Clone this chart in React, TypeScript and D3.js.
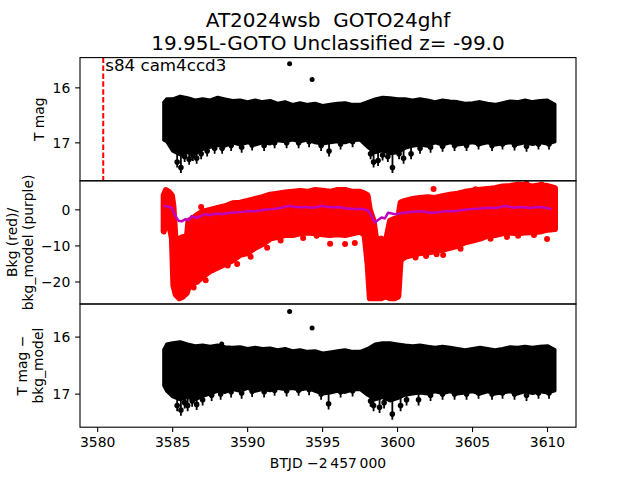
import React from "react"
import * as d3 from "d3"

// time grid (BTJD - 2457000) and envelopes
const magTimes = [3584.4, 3584.6, 3585.0, 3585.5, 3586.0, 3586.5, 3587.0, 3587.5, 3588.0, 3588.5, 3589.0, 3589.5, 3590.0, 3590.5, 3591.0, 3591.5, 3592.0, 3592.5, 3593.0, 3593.5, 3594.0, 3594.5, 3595.0, 3595.5, 3596.0, 3596.5, 3597.0, 3597.5, 3598.0, 3598.5, 3599.0, 3599.5, 3600.0, 3600.5, 3601.0, 3601.5, 3602.0, 3602.5, 3603.0, 3603.5, 3604.0, 3604.5, 3605.0, 3605.5, 3606.0, 3606.5, 3607.0, 3607.5, 3608.0, 3608.5, 3609.0, 3609.5, 3610.0, 3610.5]
const magBright = [16.26, 16.2, 16.2, 16.15, 16.18, 16.22, 16.2, 16.22, 16.17, 16.2, 16.23, 16.22, 16.25, 16.22, 16.25, 16.23, 16.28, 16.25, 16.3, 16.27, 16.3, 16.28, 16.32, 16.3, 16.28, 16.27, 16.3, 16.3, 16.25, 16.2, 16.17, 16.18, 16.2, 16.2, 16.22, 16.2, 16.22, 16.25, 16.22, 16.24, 16.25, 16.28, 16.27, 16.25, 16.28, 16.3, 16.27, 16.24, 16.25, 16.22, 16.25, 16.23, 16.22, 16.3]
const magFaint = [16.95, 16.98, 17.15, 17.22, 17.18, 17.2, 17.12, 17.08, 17.05, 17.06, 17.0, 17.04, 17.0, 17.04, 17.0, 17.02, 16.96, 16.98, 16.95, 16.98, 16.95, 17.0, 17.02, 17.0, 16.98, 17.0, 16.96, 16.95, 17.08, 17.18, 17.14, 17.2, 17.18, 17.1, 17.06, 17.04, 17.06, 17.0, 17.04, 17.0, 17.04, 17.02, 17.0, 17.03, 17.0, 17.04, 17.02, 17.0, 17.03, 17.0, 17.03, 17.0, 17.02, 16.98]
const magSpikeT = [3585.3, 3585.55, 3585.8, 3586.1, 3586.35, 3586.6, 3586.9, 3587.3, 3587.8, 3588.3, 3588.9, 3589.6, 3590.3, 3591.1, 3591.8, 3592.6, 3593.4, 3594.1, 3594.9, 3595.43, 3596.2, 3597.0, 3598.2, 3598.4, 3598.7, 3599.0, 3599.35, 3599.66, 3600.1, 3600.4, 3600.9, 3601.5, 3602.2, 3603.0, 3603.8, 3604.6, 3605.4, 3606.3, 3607.0, 3607.8, 3608.6, 3609.4, 3610.1]
const magSpikeV = [17.45, 17.55, 17.35, 17.4, 17.33, 17.38, 17.3, 17.25, 17.2, 17.2, 17.15, 17.18, 17.14, 17.15, 17.1, 17.1, 17.1, 17.08, 17.15, 17.25, 17.12, 17.08, 17.3, 17.45, 17.42, 17.32, 17.35, 17.55, 17.3, 17.38, 17.3, 17.2, 17.18, 17.16, 17.15, 17.15, 17.12, 17.15, 17.12, 17.14, 17.16, 17.12, 17.12]
const outlierT = [3592.8, 3594.3]
const outlierMag = [15.56, 15.85]

const diffBright = [16.22, 16.12, 16.1, 16.08, 16.12, 16.15, 16.14, 16.16, 16.14, 16.17, 16.18, 16.17, 16.2, 16.18, 16.2, 16.19, 16.22, 16.2, 16.24, 16.22, 16.25, 16.24, 16.28, 16.26, 16.24, 16.22, 16.25, 16.25, 16.2, 16.12, 16.1, 16.1, 16.12, 16.14, 16.15, 16.14, 16.16, 16.18, 16.16, 16.18, 16.2, 16.22, 16.2, 16.18, 16.2, 16.22, 16.2, 16.17, 16.18, 16.16, 16.18, 16.16, 16.15, 16.22]
const diffFaint = [16.85, 16.95, 17.05, 17.1, 17.06, 17.1, 17.04, 17.0, 16.95, 16.97, 16.92, 16.95, 16.9, 16.95, 16.92, 16.94, 16.9, 16.92, 16.9, 16.93, 16.9, 16.95, 17.0, 16.98, 16.95, 16.97, 16.93, 16.92, 17.02, 17.1, 17.06, 17.12, 17.08, 17.02, 17.0, 16.98, 17.0, 16.96, 16.99, 16.96, 17.0, 16.98, 16.96, 17.0, 16.96, 17.0, 16.98, 16.96, 17.0, 16.96, 16.99, 16.96, 16.98, 16.94]
const diffSpikeT = [3585.3, 3585.55, 3585.8, 3586.0, 3586.3, 3586.6, 3587.0, 3587.6, 3588.2, 3588.9, 3589.6, 3590.3, 3591.1, 3591.8, 3592.6, 3593.4, 3594.1, 3594.9, 3595.4, 3596.2, 3597.0, 3598.2, 3598.4, 3598.8, 3599.1, 3599.65, 3600.2, 3600.6, 3601.4, 3602.2, 3603.0, 3603.8, 3604.6, 3605.4, 3606.3, 3607.0, 3607.8, 3608.6, 3609.4, 3610.1]
const diffSpikeV = [17.3, 17.38, 17.25, 17.3, 17.22, 17.28, 17.2, 17.12, 17.1, 17.06, 17.08, 17.05, 17.06, 17.03, 17.04, 17.03, 17.02, 17.1, 17.27, 17.06, 17.04, 17.22, 17.3, 17.33, 17.25, 17.45, 17.3, 17.2, 17.2, 17.12, 17.1, 17.1, 17.1, 17.08, 17.1, 17.08, 17.1, 17.12, 17.08, 17.08]
const diffOutT = [3592.8, 3594.3, 3588.27]
const diffOutMag = [15.55, 15.84, 16.12]

const bkgTimes = [3584.4, 3584.55, 3584.75, 3584.95, 3585.05, 3585.2, 3585.45, 3585.7, 3585.95, 3586.05, 3586.3, 3586.6, 3587.0, 3587.5, 3588.0, 3588.5, 3589.0, 3589.5, 3590.0, 3590.5, 3591.0, 3591.5, 3592.0, 3592.5, 3593.0, 3593.5, 3594.0, 3594.5, 3595.0, 3595.5, 3596.0, 3596.5, 3597.0, 3597.5, 3597.8, 3598.0, 3598.15, 3598.4, 3598.6, 3598.9, 3599.2, 3599.5, 3599.8, 3600.05, 3600.2, 3600.5, 3601.0, 3601.5, 3602.0, 3602.5, 3603.0, 3603.5, 3604.0, 3604.5, 3605.0, 3605.5, 3606.0, 3606.5, 3607.0, 3607.5, 3608.0, 3608.5, 3609.0, 3609.5, 3610.0, 3610.5]
const bkgTop = [4.0, 5.5, 5.0, 4.0, 1.0, -9.0, -8.0, -7.5, -7.5, -3.0, -2.5, -1.5, -0.5, 0.0, 0.5, 1.0, 1.8, 2.0, 2.5, 3.0, 3.5, 4.2, 4.5, 4.8, 5.0, 5.2, 5.0, 5.5, 5.3, 5.0, 5.5, 5.5, 5.0, 5.0, 4.5, 4.0, 0.0, -3.0, -9.0, -8.0, -9.0, -3.0, -2.5, -2.0, 2.0, 2.5, 3.0, 3.3, 3.5, 3.3, 3.8, 4.2, 4.5, 5.0, 5.3, 5.6, 5.8, 6.0, 6.5, 6.6, 7.0, 6.8, 6.5, 6.8, 6.6, 6.0]
const bkgBottom = [-6.0, -4.0, -3.5, -8.0, -21.0, -23.5, -24.5, -24.0, -23.0, -21.5, -20.5, -20.0, -18.5, -17.0, -16.0, -15.0, -14.0, -12.5, -12.0, -10.5, -9.5, -8.0, -7.5, -7.0, -7.0, -6.5, -6.3, -6.5, -6.8, -7.0, -6.8, -7.0, -6.5, -6.0, -7.0, -15.0, -24.5, -24.5, -24.5, -24.5, -24.0, -24.5, -24.5, -24.0, -14.0, -13.0, -12.5, -12.0, -11.8, -11.5, -11.0, -10.5, -10.0, -9.0, -8.5, -8.0, -7.2, -7.0, -6.5, -6.3, -6.5, -6.3, -6.2, -6.0, -5.5, -5.3]
const bkgOutT = [3587.64, 3588.67, 3595.5, 3596.5, 3597.15, 3603.04, 3609.97, 3605.2, 3608.04, 3586.9, 3586.4, 3587.2, 3589.3, 3590.2, 3591.3, 3592.2, 3593.7, 3594.6, 3601.2, 3601.9, 3602.6, 3604.2, 3606.2, 3607.3, 3609.1, 3602.4, 3608.6, 3609.6]
const bkgOutV = [-16.7, -15.4, -9.4, -9.5, -9.2, -12.5, -8.1, 5.7, -7.2, 0.8, -21.5, -19.5, -15.0, -13.0, -10.5, -8.5, -7.8, -7.2, -13.2, -12.8, -12.3, -10.8, -8.0, -7.5, -7.0, 5.8, 7.2, 7.0]

const modelTimes = [3584.39, 3584.6, 3584.94, 3585.15, 3585.39, 3585.6, 3585.83, 3586.05, 3586.27, 3586.5, 3586.72, 3586.95, 3587.16, 3587.4, 3587.61, 3588.0, 3588.27, 3588.8, 3589.39, 3590.0, 3590.5, 3591.1, 3591.61, 3592.2, 3592.72, 3593.3, 3593.83, 3594.4, 3594.94, 3595.5, 3596.05, 3596.6, 3597.16, 3597.6, 3598.04, 3598.25, 3598.48, 3598.7, 3598.93, 3599.15, 3599.37, 3599.6, 3599.82, 3600.26, 3600.9, 3601.59, 3602.2, 3602.71, 3603.3, 3603.82, 3604.4, 3604.93, 3605.5, 3606.04, 3606.6, 3607.15, 3607.7, 3608.26, 3608.8, 3609.37, 3609.9, 3610.26]
const modelValues = [1.1, 1.0, 0.6, -1.5, -3.0, -3.2, -2.6, -2.9, -1.7, -2.2, -2.0, -1.6, -1.2, -1.5, -1.3, -1.0, -1.2, -0.8, -0.7, -0.4, -0.4, 0.0, 0.2, 0.5, 1.1, 0.7, 0.8, 0.6, 1.1, 0.7, 0.8, 0.4, 0.2, 0.3, -0.2, -1.5, -3.5, -2.8, -2.1, -2.4, -0.8, -1.0, -1.2, -0.9, -0.6, -0.4, -0.8, -0.7, -0.3, -0.4, 0.0, 0.2, 0.4, 0.6, 0.5, 1.1, 0.6, 0.8, 0.5, 0.8, 0.6, 0.2]

const xTicks = [3580, 3585, 3590, 3595, 3600, 3605, 3610]
const sectorTime = 3580.37

const FONT = "DejaVu Sans, sans-serif"
const L = 80, R = 576
const panels = [57.6, 180.8, 304, 427.2]

const x = d3.scaleLinear().domain([3578.82, 3611.9]).range([L, R])
const yTop = d3.scaleLinear().domain([15.45, 17.69]).range([panels[0], panels[1]])
const yMid = d3.scaleLinear().domain([8.05, -26.1]).range([panels[1], panels[2]])
const yBot = d3.scaleLinear().domain([15.42, 17.58]).range([panels[2], panels[3]])

const fmt = (v: number) => (v < 0 ? "\u2212" + Math.abs(v) : String(v))

function YAxis({ y, ticks }: { y: d3.ScaleLinear<number, number>; ticks: number[] }) {
  return (
    <g>
      {ticks.map((t) => (
        <g key={t}>
          <line x1={L - 4.9} x2={L} y1={y(t)} y2={y(t)} stroke="black" strokeWidth={1.1} />
          <text x={L - 9.7} y={y(t)} dy="0.35em" textAnchor="end" fontSize={13.9} fontFamily={FONT}>
            {fmt(t)}
          </text>
        </g>
      ))}
    </g>
  )
}

function Band({ times, hi, lo, y, color, sw }: { times: number[]; hi: number[]; lo: number[]; y: d3.ScaleLinear<number, number>; color: string; sw: number }) {
  const area = d3
    .area<number>()
    .x((i) => x(times[i]))
    .y0((i) => y(lo[i]))
    .y1((i) => y(hi[i]))
  return <path d={area(d3.range(times.length)) || ""} fill={color} stroke={color} strokeWidth={sw} strokeLinejoin="round" />
}

// error-bar style dips hanging under the band
function Spikes({ ts, vs, y }: { ts: number[]; vs: number[]; y: d3.ScaleLinear<number, number> }) {
  return (
    <g>
      {ts.map((t, i) => (
        <g key={i}>
          <line x1={x(t)} x2={x(t)} y1={y(vs[i] - 0.4)} y2={y(vs[i])} stroke="black" strokeWidth={1.8} />
          <circle cx={x(t)} cy={y(vs[i] - 0.1)} r={2.8} fill="black" />
        </g>
      ))}
    </g>
  )
}

function Dots({ ts, vs, y, color, r }: { ts: number[]; vs: number[]; y: d3.ScaleLinear<number, number>; color: string; r: number }) {
  return (
    <g>
      {ts.map((t, i) => (
        <circle key={i} cx={x(t)} cy={y(vs[i])} r={r} fill={color} />
      ))}
    </g>
  )
}

export default function App() {
  const modelLine = d3
    .line<number>()
    .x((i) => x(modelTimes[i]))
    .y((i) => yMid(modelValues[i]))
  const W = R - L
  return (
    <div style={{ position: "absolute", left: 0, top: 0 }}>
      <svg width={640} height={480} style={{ display: "block", background: "white" }}>
        <defs>
          {[0, 1, 2].map((k) => (
            <clipPath id={"clip" + k} key={k}>
              <rect x={L} y={panels[k]} width={W} height={panels[k + 1] - panels[k]} />
            </clipPath>
          ))}
        </defs>
        <text x={328} y={27} textAnchor="middle" fontSize={20} fontFamily={FONT}>
          {"AT2024wsb\u00a0\u00a0GOTO24ghf"}
        </text>
        <text x={328} y={50} textAnchor="middle" fontSize={20} fontFamily={FONT}>
          19.95L-GOTO Unclassified z= -99.0
        </text>

        {/* top panel */}
        <g clipPath="url(#clip0)">
          <Band times={magTimes} hi={magBright} lo={magFaint} y={yTop} color="black" sw={3} />
          <Spikes ts={magSpikeT} vs={magSpikeV} y={yTop} />
          <Dots ts={outlierT} vs={outlierMag} y={yTop} color="black" r={2.5} />
          <line x1={x(sectorTime)} x2={x(sectorTime)} y1={panels[0]} y2={panels[1]} stroke="red" strokeWidth={2} strokeDasharray="5.5,2.4" />
        </g>
        <text x={x(sectorTime) + 2} y={70.5} fontSize={16.7} fontFamily={FONT}>
          s84 cam4ccd3
        </text>
        <YAxis y={yTop} ticks={[16, 17]} />

        {/* middle panel */}
        <g clipPath="url(#clip1)">
          <Band times={bkgTimes} hi={bkgTop} lo={bkgBottom} y={yMid} color="red" sw={6} />
          <Dots ts={bkgOutT} vs={bkgOutV} y={yMid} color="red" r={3} />
          <path d={modelLine(d3.range(modelTimes.length)) || ""} fill="none" stroke="#bf00bf" strokeWidth={2.5} strokeLinejoin="round" />
        </g>
        <YAxis y={yMid} ticks={[0, -10, -20]} />

        {/* bottom panel */}
        <g clipPath="url(#clip2)">
          <Band times={magTimes} hi={diffBright} lo={diffFaint} y={yBot} color="black" sw={3} />
          <Spikes ts={diffSpikeT} vs={diffSpikeV} y={yBot} />
          <Dots ts={diffOutT} vs={diffOutMag} y={yBot} color="black" r={2.5} />
        </g>
        <YAxis y={yBot} ticks={[16, 17]} />

        {xTicks.map((t) => (
          <g key={t}>
            <line x1={x(t)} x2={x(t)} y1={panels[3]} y2={panels[3] + 4.9} stroke="black" strokeWidth={1.1} />
            <text x={x(t)} y={447} textAnchor="middle" fontSize={13.9} fontFamily={FONT}>
              {t}
            </text>
          </g>
        ))}

        {[0, 1, 2].map((k) => (
          <rect key={k} x={L} y={panels[k]} width={W} height={panels[k + 1] - panels[k]} fill="none" stroke="black" strokeWidth={1.1} />
        ))}

        <text transform={`translate(44,${(panels[0] + panels[1]) / 2}) rotate(-90)`} textAnchor="middle" fontSize={13.9} fontFamily={FONT}>
          T mag
        </text>
        <text transform={`translate(17,${(panels[1] + panels[2]) / 2}) rotate(-90)`} textAnchor="middle" fontSize={13.9} fontFamily={FONT}>
          Bkg (red)/
        </text>
        <text transform={`translate(33,${(panels[1] + panels[2]) / 2}) rotate(-90)`} textAnchor="middle" fontSize={13.9} fontFamily={FONT}>
          bkg_model (purple)
        </text>
        <text transform={`translate(27,${(panels[2] + panels[3]) / 2}) rotate(-90)`} textAnchor="middle" fontSize={13.9} fontFamily={FONT}>
          {"T mag \u2212"}
        </text>
        <text transform={`translate(43,${(panels[2] + panels[3]) / 2}) rotate(-90)`} textAnchor="middle" fontSize={13.9} fontFamily={FONT}>
          bkg_model
        </text>
        <text x={328} y={468} textAnchor="middle" fontSize={13.9} fontFamily={FONT}>
          {"BTJD \u22122\u2009457\u2009000"}
        </text>
      </svg>
    </div>
  )
}
